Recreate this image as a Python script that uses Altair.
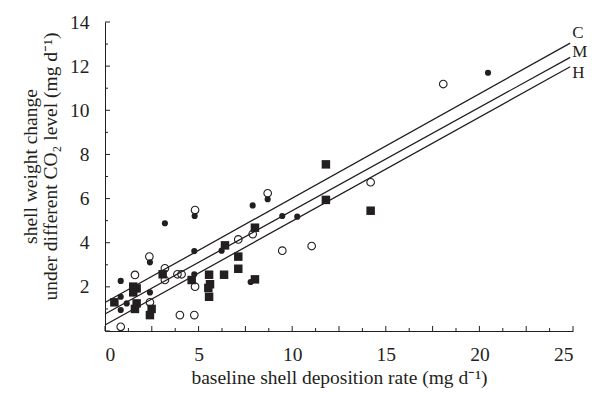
import altair as alt
import pandas as pd

INK = "#231f20"
FONT = "Liberation Serif"
FS = 19.5

# filled circles
fc_x = [20.46, 4.79, 8.69, 7.89, 9.47, 10.27, 6.23, 4.77, 4.77, 7.78, 3.2, 2.40, 0.84, 2.40, 0.84, 1.16, 0.84]
fc_y = [11.70, 5.21, 5.97, 5.69, 5.21, 5.18, 3.64, 3.62, 2.57, 2.22, 4.88, 3.11, 2.27, 1.75, 1.55, 1.25, 0.95]
# open circles
oc_x = [18.07, 14.19, 11.04, 4.81, 8.69, 7.89, 7.12, 9.47, 4.81, 2.37, 1.60, 3.2, 3.2, 3.87, 4.09, 2.40, 0.84, 4.0, 4.77]
oc_y = [11.19, 6.74, 3.85, 5.48, 6.24, 4.39, 4.15, 3.64, 2.01, 3.37, 2.54, 2.84, 2.31, 2.57, 2.57, 1.30, 0.19, 0.72, 0.72]
# filled squares
sq_x = [11.8, 11.8, 14.19, 8.01, 6.41, 7.12, 7.12, 5.56, 6.36, 4.63, 8.01, 5.61, 5.52, 5.56, 3.08, 1.51, 1.69, 1.51, 1.69, 1.6, 2.49, 2.40, 0.50]
sq_y = [7.55, 5.94, 5.45, 4.68, 3.88, 3.37, 2.82, 2.55, 2.55, 2.31, 2.34, 2.12, 1.95, 1.55, 2.57, 2.01, 1.93, 1.75, 1.25, 1.0, 1.0, 0.72, 1.30]

# fitted lines: endpoints
line_names = ["C", "M", "H"]
line_x0 = [0.0, 0.0, 0.0]
line_x1 = [24.85, 24.85, 24.85]
line_y0 = [1.29, 0.77, 0.27]
line_y1 = [13.04, 12.40, 11.97]
label_dy = [-10, -5, 6]

x_major = [0, 2.5, 5, 7.5, 10, 12.5, 15, 17.5, 20, 22.5, 25]
x_minor = [1.25, 3.75, 6.25, 8.75, 11.25, 13.75, 16.25, 18.75, 21.25, 23.75]
y_major = [0, 2, 4, 6, 8, 10, 12, 14]
y_minor = [1, 3, 5, 7, 9, 11, 13]
x_labels = [0, 5, 10, 15, 20, 25]
y_labels = [2, 4, 6, 8, 10, 12, 14]

W, H = 468, 309

xs = alt.Scale(domain=[0, 25], nice=False, zero=False)
ys = alt.Scale(domain=[0, 14], nice=False, zero=False)

xaxis = alt.Axis(values=x_labels, ticks=False, grid=False, domainColor=INK, domainWidth=1,
                 labelFont=FONT, labelFontSize=FS, labelColor=INK, labelPadding=14,
                 title="baseline shell deposition rate (mg d\u207b\u00b9)",
                 titleFont=FONT, titleFontSize=FS, titleFontWeight="normal", titleColor=INK,
                 titleY=46, titleBaseline="middle", titleX=W / 2)
yaxis = alt.Axis(values=y_labels, ticks=False, grid=False, domainColor=INK, domainWidth=1,
                 labelFont=FONT, labelFontSize=FS, labelColor=INK, labelPadding=16,
                 title=["shell weight change", "under different CO\u2082 level (mg d\u207b\u00b9)"],
                 titleFont=FONT, titleFontSize=FS, titleFontWeight="normal", titleColor=INK,
                 titleX=-75, titleY=144, titleBaseline="middle", titleAlign="center",
                 titleLineHeight=20)

X = alt.X("x:Q", scale=xs, axis=xaxis)
Y = alt.Y("y:Q", scale=ys, axis=yaxis)

lines_df = pd.DataFrame({
    "series": line_names * 2,
    "x": line_x0 + line_x1,
    "y": line_y0 + line_y1,
})
lines = alt.Chart(lines_df).mark_line(color=INK, strokeWidth=1.3).encode(
    x=X, y=Y, detail="series:N")

labels = []
for name, xe, ye, dy in zip(line_names, line_x1, line_y1, label_dy):
    d = pd.DataFrame({"x": [xe], "y": [ye], "t": [name]})
    labels.append(alt.Chart(d).mark_text(align="left", baseline="middle", dx=2, dy=dy,
                                         font=FONT, fontSize=17, color=INK)
                  .encode(x=X, y=Y, text="t:N"))

oc = alt.Chart(pd.DataFrame({"x": oc_x, "y": oc_y})).mark_point(
    shape="circle", filled=False, color=INK, strokeWidth=1.1, size=58, opacity=1).encode(x=X, y=Y)
sq = alt.Chart(pd.DataFrame({"x": sq_x, "y": sq_y})).mark_point(
    shape="square", filled=True, color=INK, size=72, opacity=1).encode(x=X, y=Y)
fc = alt.Chart(pd.DataFrame({"x": fc_x, "y": fc_y})).mark_point(
    shape="circle", filled=True, color=INK, size=38, opacity=1).encode(x=X, y=Y)

xt_major = alt.Chart(pd.DataFrame({"x": x_major})).mark_rule(color=INK, strokeWidth=1).encode(
    x=X, y=alt.value(H), y2=alt.value(H - 5))
xt_minor = alt.Chart(pd.DataFrame({"x": x_minor})).mark_rule(color=INK, strokeWidth=1).encode(
    x=X, y=alt.value(H), y2=alt.value(H - 3))
yt_major = alt.Chart(pd.DataFrame({"y": y_major})).mark_rule(color=INK, strokeWidth=1).encode(
    y=Y, x=alt.value(0), x2=alt.value(5))
yt_minor = alt.Chart(pd.DataFrame({"y": y_minor})).mark_rule(color=INK, strokeWidth=1).encode(
    y=Y, x=alt.value(0), x2=alt.value(3))

chart = alt.layer(lines, *labels, oc, sq, fc, xt_major, xt_minor, yt_major, yt_minor).properties(
    width=W, height=H,
    autosize=alt.AutoSizeParams(type="none"),
    padding={"left": 97, "top": 14, "right": 15, "bottom": 57},
    background="white",
).configure_view(stroke=None)

chart.save("out.html", embed_options={"renderer": "svg", "actions": False})
